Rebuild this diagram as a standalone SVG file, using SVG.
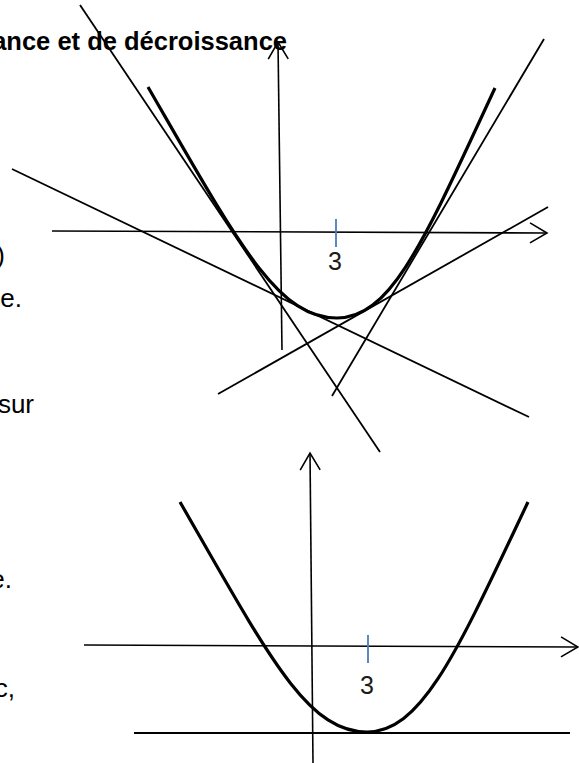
<svg xmlns="http://www.w3.org/2000/svg" width="579" height="763" viewBox="0 0 579 763">
<style>
.txt{font-family:"Liberation Sans",Arial,sans-serif;font-size:26px;fill:#000}
.title{font-family:"Liberation Sans",Arial,sans-serif;font-size:25.5px;font-weight:bold;fill:#000}
.num{font-family:"Liberation Sans",Arial,sans-serif;font-size:25px;fill:#1a1a1a;text-anchor:middle}
.axis{stroke:#000;stroke-width:1.6;fill:none}
.tan{stroke:#000;stroke-width:1.8;fill:none}
.curve{stroke:#000;stroke-width:3.2;fill:none}
.tick{stroke:#4a7ebb;stroke-width:1.8}
</style>
<defs>
<marker id="arr" markerUnits="userSpaceOnUse" markerWidth="40" markerHeight="40" refX="0" refY="0" viewBox="-20 -20 40 40" orient="auto" overflow="visible">
<path d="M-17,-10 L0,0 L-17,10" fill="none" stroke="#000" stroke-width="1.6"/>
</marker>
</defs>
<g id="text-left">
<text class="title" x="287" y="50" text-anchor="end">ance et de décroissance</text>
<text class="txt" x="5" y="264" text-anchor="end">)</text>
<text class="txt" x="22" y="307" text-anchor="end">e.</text>
<text class="txt" x="34" y="413" text-anchor="end">sur</text>
<text class="txt" x="12" y="588" text-anchor="end">e.</text>
<text class="txt" x="15" y="697" text-anchor="end">c,</text>
</g>
<g id="graph-top">
<line class="axis" x1="52" y1="231" x2="547" y2="233" marker-end="url(#arr)"/>
<line class="axis" x1="282" y1="350" x2="278" y2="42" marker-end="url(#arr)"/>
<line class="tick" x1="336" y1="219" x2="336" y2="247"/>
<text class="num" x="335" y="270">3</text>
<path class="curve" d="M148,87 C238,243 277,318 337,318 C392,318 425,238.5 495,88"/>
<g id="tangents-top">
<line class="tan" x1="80" y1="5" x2="380" y2="452"/>
<line class="tan" x1="12" y1="169" x2="529" y2="417"/>
<line class="tan" x1="218" y1="394" x2="548" y2="207"/>
<line class="tan" x1="332" y1="396" x2="544" y2="39"/>
</g>
</g>
<g id="graph-bottom">
<line class="axis" x1="84" y1="645" x2="578" y2="647" marker-end="url(#arr)"/>
<line class="axis" x1="313" y1="763" x2="310" y2="453" marker-end="url(#arr)"/>
<line class="tick" x1="368" y1="635" x2="368" y2="663"/>
<text class="num" x="367" y="694">3</text>
<path class="curve" d="M180,502 C269,657 307,732 367,732 C422,732 457,652 528,502"/>
<line class="tan" x1="134" y1="733" x2="570" y2="733"/>
</g>
</svg>
